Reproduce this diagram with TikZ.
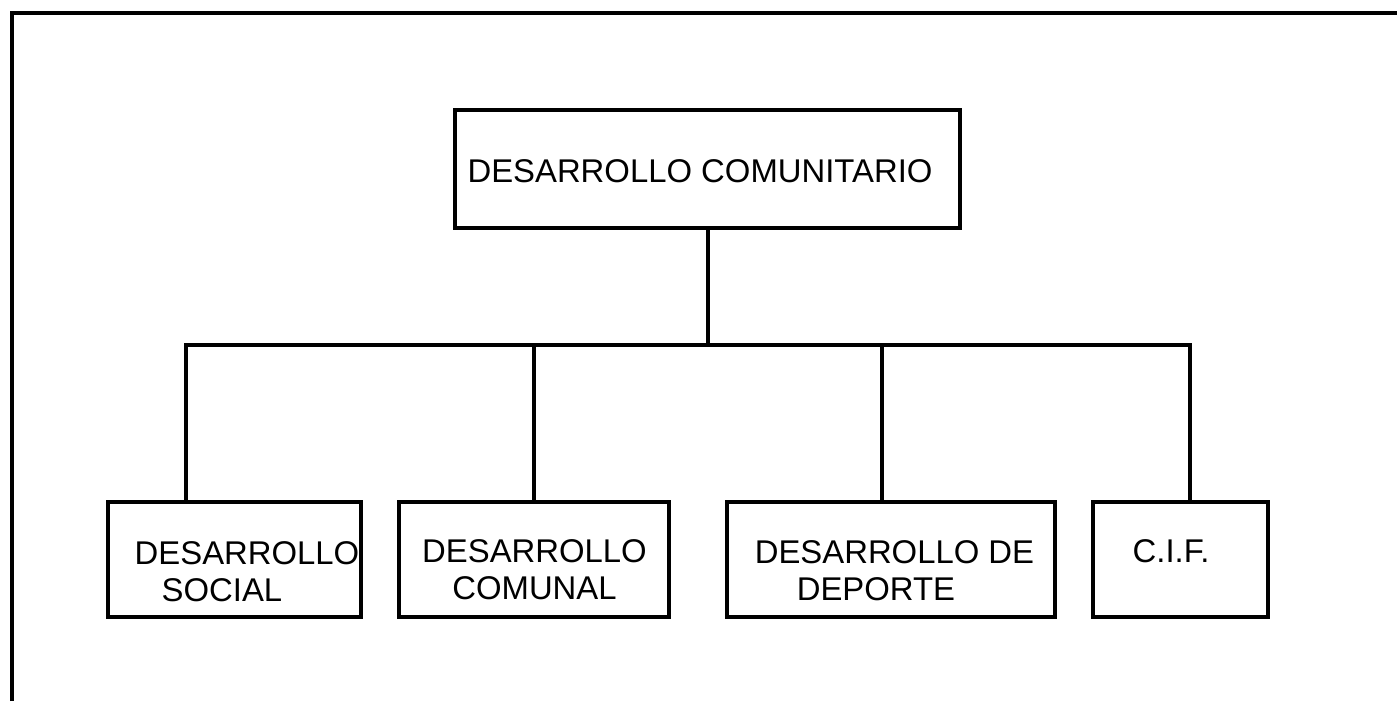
\documentclass[tikz,border=0pt]{standalone}
\usepackage{fontspec}
\setmainfont{Liberation Sans}

\begin{document}
\begin{tikzpicture}[x=0.02cm, y=-0.02cm,
    box/.style={draw, line width=2pt, minimum height=2.3cm, inner sep=0pt},
    lbl/.style={font=\fontsize{18.7}{21.2}\selectfont, inner sep=0pt},
    link/.style={line width=2.1pt}]
    \useasboundingbox (0,0) rectangle (1397,701);

    % outer frame, its right and bottom sides lie off the page
    \draw[line width=2.1pt] (12,701) -- (12,13) -- (1397,13);

    % head unit
    \node[box, minimum width=10.1cm, minimum height=2.36cm] (dc) at (707.5,169) {};
    \node[lbl] (tdc) at (700,171) {DESARROLLO COMUNITARIO};

    % units below
    \node[box, minimum width=5.06cm] (soc) at (234.5,559.5) {};
    \node[box, minimum width=5.4cm]  (com) at (534,559.5) {};
    \node[box, minimum width=6.56cm] (dep) at (891,559.5) {};
    \node[box, minimum width=3.5cm]  (cif) at (1180.5,559.5) {};

    \node[lbl, align=left]   (tsoc) at (247,572)   {DESARROLLO\\\hspace{0.54cm}SOCIAL};
    \node[lbl, align=center] (tcom) at (534.5,570) {DESARROLLO\\COMUNAL};
    \node[lbl, align=left]   (tdep) at (894.5,570.5) {DESARROLLO DE\\\hspace{0.84cm}DEPORTE};
    \node[lbl] (tcif) at (1171,551.5) {C.I.F.};

    % branch points on the bar
    \coordinate (j0) at (708,345);
    \coordinate (j1) at (186,345);
    \coordinate (j2) at (534,345);
    \coordinate (j3) at (882,345);
    \coordinate (j4) at (1190,345);

    \draw[link] (dc.south -| j0) -- (j0);
    \draw[link, line cap=rect] (j1) -- (j4);
    \draw[link] (j1) -- (j1 |- soc.north);
    \draw[link] (j2) -- (j2 |- com.north);
    \draw[link] (j3) -- (j3 |- dep.north);
    \draw[link] (j4) -- (j4 |- cif.north);
\end{tikzpicture}
\end{document}
